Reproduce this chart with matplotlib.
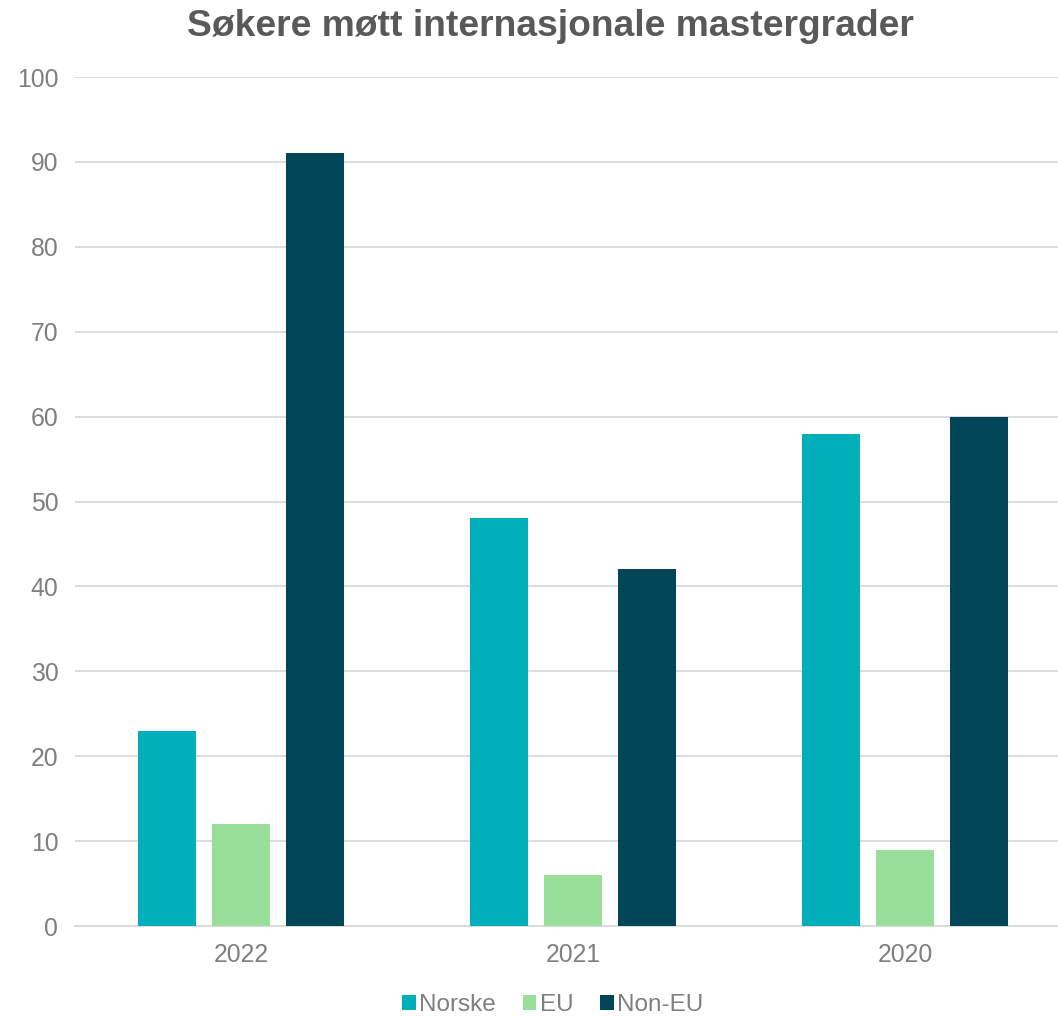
import matplotlib
matplotlib.use("Agg")
import matplotlib.pyplot as plt
import numpy as np

categories = ["2022", "2021", "2020"]
series_names = ["Norske", "EU", "Non-EU"]
norske = [23, 48, 58]
eu = [12, 6, 9]
non_eu = [91, 42, 60]
colors = ["#00AFBA", "#98DF9A", "#004558"]

plt.rcParams['font.family'] = ['Liberation Sans', 'DejaVu Sans']

W, H = 1058, 1016
fig = plt.figure(figsize=(W/100, H/100), dpi=100)
ax = fig.add_axes([75/W, (H-926)/H, (1058-75)/W, (926-77)/H])

x = np.arange(len(categories))
bw = 58/332
off = 74/332
for i, (vals, name, c) in enumerate(zip([norske, eu, non_eu], series_names, colors)):
    ax.bar(x + (i-1)*off, vals, bw, color=c, label=name, zorder=3)

ax.set_xlim(-0.5, (1058-241)/332)
ax.set_ylim(0, 100)
ax.set_yticks(range(0, 101, 10))
ax.set_xticks(x)
ax.set_xticklabels(categories)
ax.yaxis.grid(True, color="#D9D9D9", linewidth=1.3, zorder=0)
ax.set_axisbelow(True)
for s in ["top", "right", "left"]:
    ax.spines[s].set_visible(False)
ax.spines["bottom"].set_color("#D9D9D9")
ax.spines["bottom"].set_linewidth(1.3)
ax.tick_params(axis="both", length=0, labelsize=17.8, labelcolor="#7F7F7F")
ax.tick_params(axis="y", pad=12)
ax.tick_params(axis="x", pad=12)

fig.text(550/W, 1-27/H, "Søkere møtt internasjonale mastergrader", ha="center", va="center",
         fontsize=26.8, fontweight="bold", color="#595959")

leg = fig.legend(loc="center", bbox_to_anchor=(553/W, 1-1005/H), ncol=3, frameon=False,
                 fontsize=17.5, handlelength=0.55, handleheight=0.55, handletextpad=0.15,
                 columnspacing=1.1)
for t in leg.get_texts():
    t.set_color("#7F7F7F")

fig.savefig("out.png", dpi=100)
